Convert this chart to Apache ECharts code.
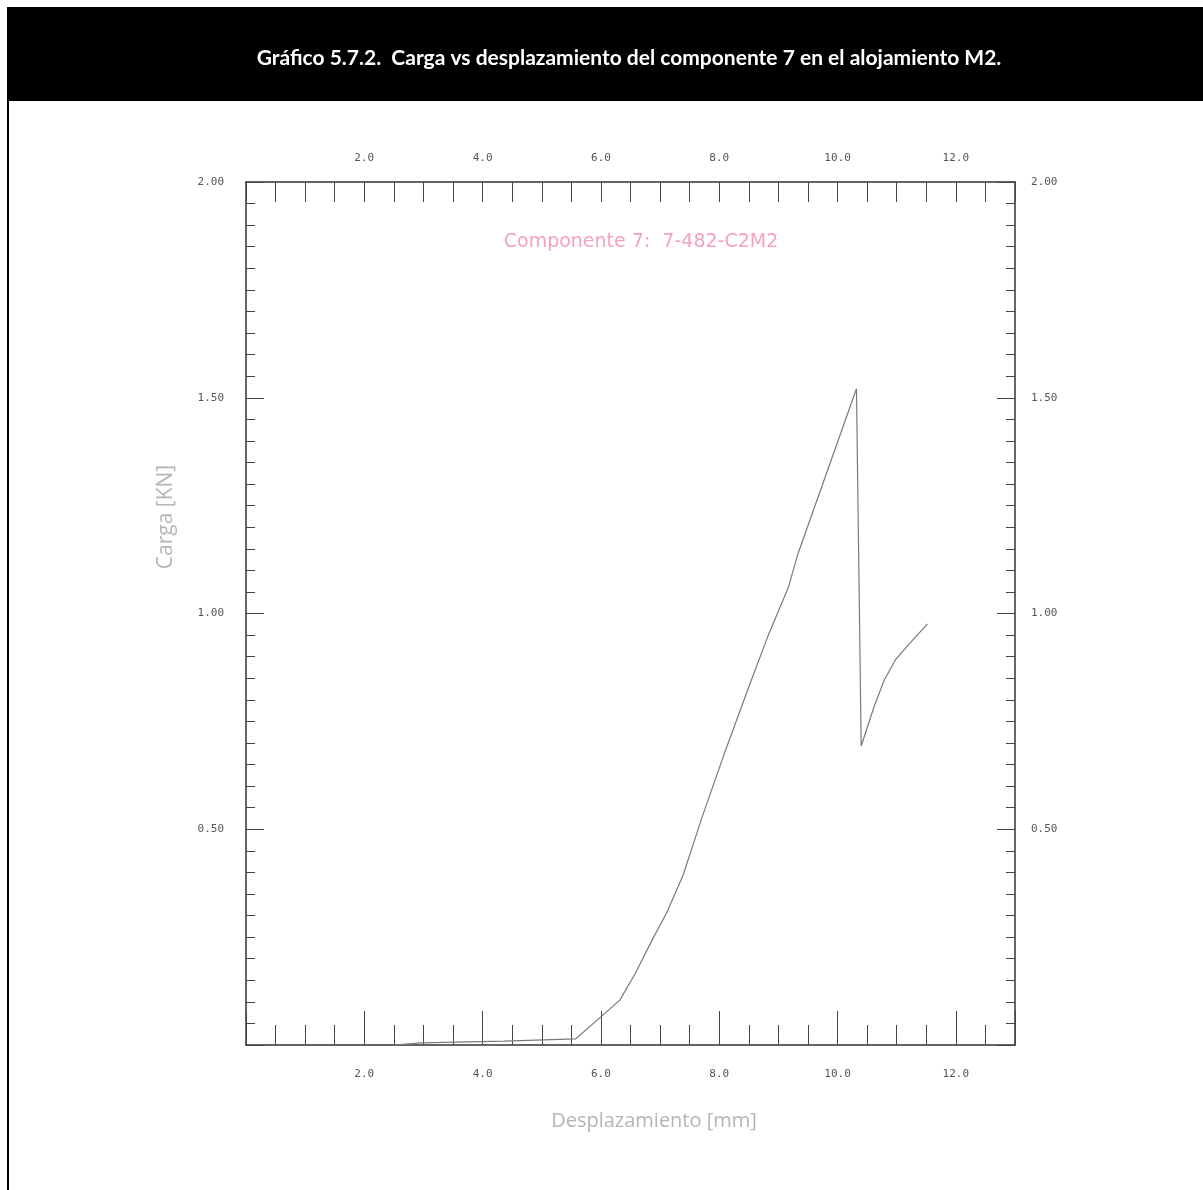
<!DOCTYPE html>
<html>
<head>
<meta charset="utf-8">
<title>Carga vs desplazamiento - componente 7</title>
<script src="https://cdn.jsdelivr.net/npm/echarts@6/dist/echarts.min.js"></script>
<style>
  html, body { margin: 0; padding: 0; background: #fff; }
  #chart { width: 1203px; height: 1190px; }
</style>
</head>
<body>
<div id="chart"></div>
<script>
// values
const dispMm = [2.5, 2.96, 4.36, 5.57, 5.99, 6.32, 6.59, 6.85, 7.12, 7.39, 7.71, 8.07, 8.49, 8.81, 9.17, 9.33, 10.32, 10.40, 10.62, 10.79, 10.98, 11.19, 11.52];
const loadKN = [0.0, 0.005, 0.009, 0.014, 0.064, 0.104, 0.168, 0.239, 0.309, 0.394, 0.528, 0.669, 0.826, 0.943, 1.061, 1.138, 1.521, 0.693, 0.785, 0.846, 0.893, 0.926, 0.976];
const xLabelTicks = [2, 4, 6, 8, 10, 12];
const yLabelTicks = [0.5, 1.0, 1.5, 2.0];

const headerText = 'Gráfico 5.7.2.  Carga vs desplazamiento del componente 7 en el alojamiento M2.';
const innerLabel = 'Componente 7:  7-482-C2M2';

const chartDom = document.getElementById('chart');
const myChart = echarts.init(chartDom);

const tickFont = { fontFamily: 'DejaVu Sans Mono', fontSize: 11, color: '#555' };
const axisLine = { show: true, onZero: false, lineStyle: { color: '#333', width: 1.5 } };
const tickStyle = { color: '#444', width: 1 };

const xLabel = v => (xLabelTicks.indexOf(Math.round(v * 10) / 10) >= 0 ? v.toFixed(1) : '');
const yLabel = v => (yLabelTicks.indexOf(Math.round(v * 100) / 100) >= 0 ? v.toFixed(2) : '');

const option = {
  animation: false,
  backgroundColor: '#fff',
  graphic: [
    { type: 'rect', shape: { x: 7, y: 7, width: 1196, height: 94 }, style: { fill: '#000' } },
    { type: 'line', shape: { x1: 8, y1: 100, x2: 8, y2: 1190 }, style: { stroke: '#000', lineWidth: 2 } },
    {
      type: 'text', x: 654, y: 1121,
      style: {
        text: 'Desplazamiento [mm]', fill: '#b5b5b5', font: '20px "Open Sans"',
        align: 'center', verticalAlign: 'middle'
      }
    },
    {
      type: 'text', x: 166, y: 517, rotation: Math.PI / 2,
      style: {
        text: 'Carga [KN]', fill: '#b5b5b5', font: '21px "Open Sans"',
        align: 'center', verticalAlign: 'middle'
      }
    }
  ],
  title: [
    {
      text: headerText,
      left: 624,
      top: 43,
      textAlign: 'center',
      textStyle: { color: '#fff', fontFamily: 'Lato', fontWeight: 'bold', fontSize: 21 }
    },
    {
      text: innerLabel,
      left: 636,
      top: 228,
      textAlign: 'center',
      textStyle: { color: '#f6a1c0', fontFamily: 'DejaVu Sans', fontWeight: 'normal', fontSize: 19 }
    }
  ],
  grid: { left: 246, right: 188, top: 182, bottom: 145 },
  xAxis: [
    {
      type: 'value', position: 'bottom', min: 0, max: 13, interval: 2,
      axisLine: axisLine,
      axisTick: { show: true, inside: true, length: 34, lineStyle: tickStyle },
      minorTick: { show: true, splitNumber: 4, length: 20, lineStyle: tickStyle },
      splitLine: { show: false },
      axisLabel: Object.assign({ margin: 24, formatter: xLabel }, tickFont)
    },
    {
      type: 'value', position: 'top', min: 0, max: 13, interval: 2,
      axisLine: axisLine,
      axisTick: { show: true, inside: true, length: 20, lineStyle: tickStyle },
      minorTick: { show: true, splitNumber: 4, length: 20, lineStyle: tickStyle },
      splitLine: { show: false },
      axisLabel: Object.assign({ margin: 18, formatter: xLabel }, tickFont)
    }
  ],
  yAxis: [
    {
      type: 'value', position: 'left', min: 0, max: 2, interval: 0.5,
      axisLine: axisLine,
      axisTick: { show: true, inside: false, length: -18, lineStyle: tickStyle },
      minorTick: { show: true, splitNumber: 10, length: -9, lineStyle: tickStyle },
      splitLine: { show: false },
      axisLabel: Object.assign({ margin: 22, formatter: yLabel }, tickFont)
    },
    {
      type: 'value', position: 'right', min: 0, max: 2, interval: 0.5,
      axisLine: axisLine,
      axisTick: { show: true, inside: true, length: 18, lineStyle: tickStyle },
      minorTick: { show: true, splitNumber: 10, length: 9, lineStyle: tickStyle },
      splitLine: { show: false },
      axisLabel: Object.assign({ margin: 16, formatter: yLabel }, tickFont)
    }
  ],
  series: [
    {
      name: 'Componente 7',
      type: 'line',
      xAxisIndex: 0,
      yAxisIndex: 0,
      showSymbol: false,
      symbol: 'none',
      lineStyle: { color: '#7a7a7a', width: 1.2 },
      data: dispMm.map((x, i) => [x, loadKN[i]])
    }
  ]
};

myChart.setOption(option);
</script>
</body>
</html>
